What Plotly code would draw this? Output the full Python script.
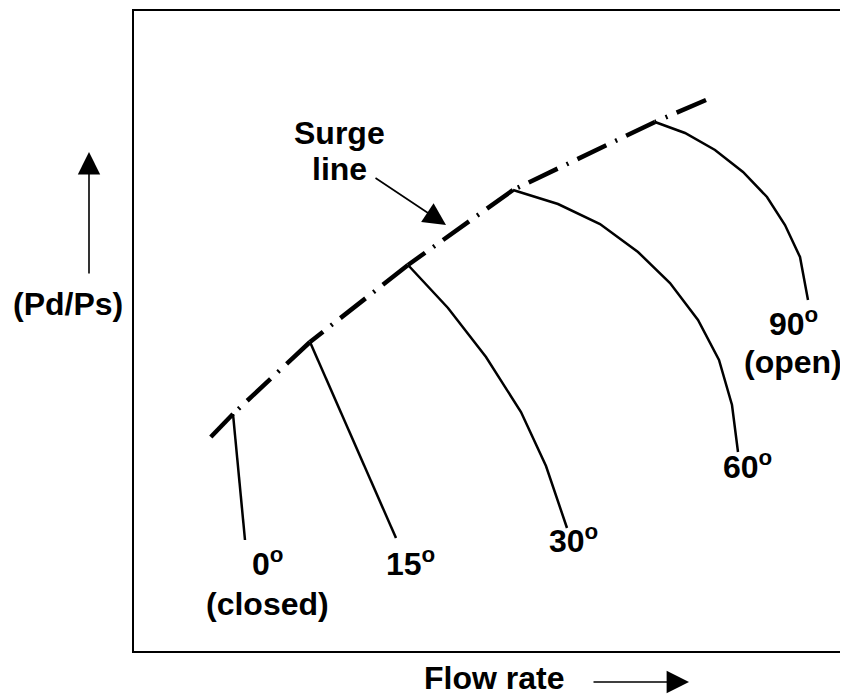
import plotly.graph_objects as go

# ---- data (flow rate, pressure ratio in arbitrary chart units) ----
surge_x = [73, 99, 176, 274, 379, 521, 572]
surge_y = [210, 237, 309, 386, 461, 529, 551]

curve_labels = ["0", "15", "30", "60", "90"]
curve_x = [
    [99, 111],
    [176, 262],
    [274, 314, 352, 387, 412, 433],
    [379, 424, 466, 504, 536, 564, 585, 598, 604],
    [521, 551, 581, 609, 633, 651, 666, 670, 674],
]
curve_y = [
    [237, 111],
    [309, 113],
    [386, 343, 294, 239, 185, 123],
    [461, 447, 427, 399, 368, 331, 291, 246, 199],
    [529, 518, 501, 479, 454, 426, 394, 371, 351],
]
curve_notes = ["(closed)", "", "", "", "(open)"]

# ---- layout geometry ----
W, H = 848, 700
OFF = 8                      # page body margin
FL, FT, FB = 134, 11, 651    # frame left/top/bottom on page
L = FL - OFF
T = FT - OFF
B = H - (FB - OFF)
XR = W - L
YR = FB - FT


def px(x):   # page x -> paper
    return (x - FL) / XR


def py(y):   # page y -> paper
    return (FB - y) / YR


FONT = "Arial, 'Liberation Sans', sans-serif"
FS = 32
fig = go.Figure()

# surge line: each segment drawn from its upper end down, so the dash
# pattern restarts at every junction
for i in range(len(surge_x) - 1):
    fig.add_trace(go.Scatter(
        x=surge_x[i:i + 2][::-1], y=surge_y[i:i + 2][::-1], mode="lines",
        line=dict(color="black", width=4.5, dash="32px,10px,2px,10px"),
        hoverinfo="skip", showlegend=False))

for xs, ys in zip(curve_x, curve_y):
    fig.add_trace(go.Scatter(
        x=xs, y=ys, mode="lines", line=dict(color="black", width=2.5),
        hoverinfo="skip", showlegend=False))

annots = []


def label(text, x, y, size=FS):
    return dict(x=px(x), y=py(y), xref="paper", yref="paper",
                xanchor="center", yanchor="middle",
                text=text, showarrow=False,
                font=dict(size=size, family=FONT, color="black"))


label_pos = [(267, 562), (410, 562), (573, 539), (747, 465), (793, 322)]
note_pos = [(267, 604), None, None, None, (793, 362)]
for lab, note, (lx, ly), npos in zip(curve_labels, curve_notes, label_pos, note_pos):
    annots.append(label(f"<b>{lab}<sup>o</sup></b>", lx, ly))
    if note:
        annots.append(label(f"<b>{note}</b>", npos[0], npos[1]))

annots.append(label("<b>Surge</b>", 339, 133))
annots.append(label("<b>line</b>", 339, 169))


def arrow(hx, hy, tx, ty):
    return dict(x=px(hx), y=py(hy), xref="paper", yref="paper",
                ax=tx - hx, ay=ty - hy, axref="pixel", ayref="pixel",
                text="", showarrow=True, arrowhead=2, arrowsize=2.8,
                arrowwidth=1.6, arrowcolor="black")


annots.append(arrow(446, 225, 374, 177))
annots.append(label("<b>(Pd/Ps)</b>", 68, 304))
annots.append(arrow(89, 152, 89, 275))
annots.append(label("<b>Flow rate</b>", 494, 678))
annots.append(arrow(689, 682, 592, 682))

fig.update_layout(
    width=W, height=H,
    margin=dict(l=L, r=0, t=T, b=B, pad=0),
    paper_bgcolor="white", plot_bgcolor="white",
    annotations=annots,
    xaxis=dict(range=[0, XR], showgrid=False, zeroline=False, showticklabels=False,
               ticks="", showline=True, linecolor="black", linewidth=2, mirror=True),
    yaxis=dict(range=[0, YR], showgrid=False, zeroline=False, showticklabels=False,
               ticks="", showline=True, linecolor="black", linewidth=2, mirror=False),
)

fig.write_html("out.html")
